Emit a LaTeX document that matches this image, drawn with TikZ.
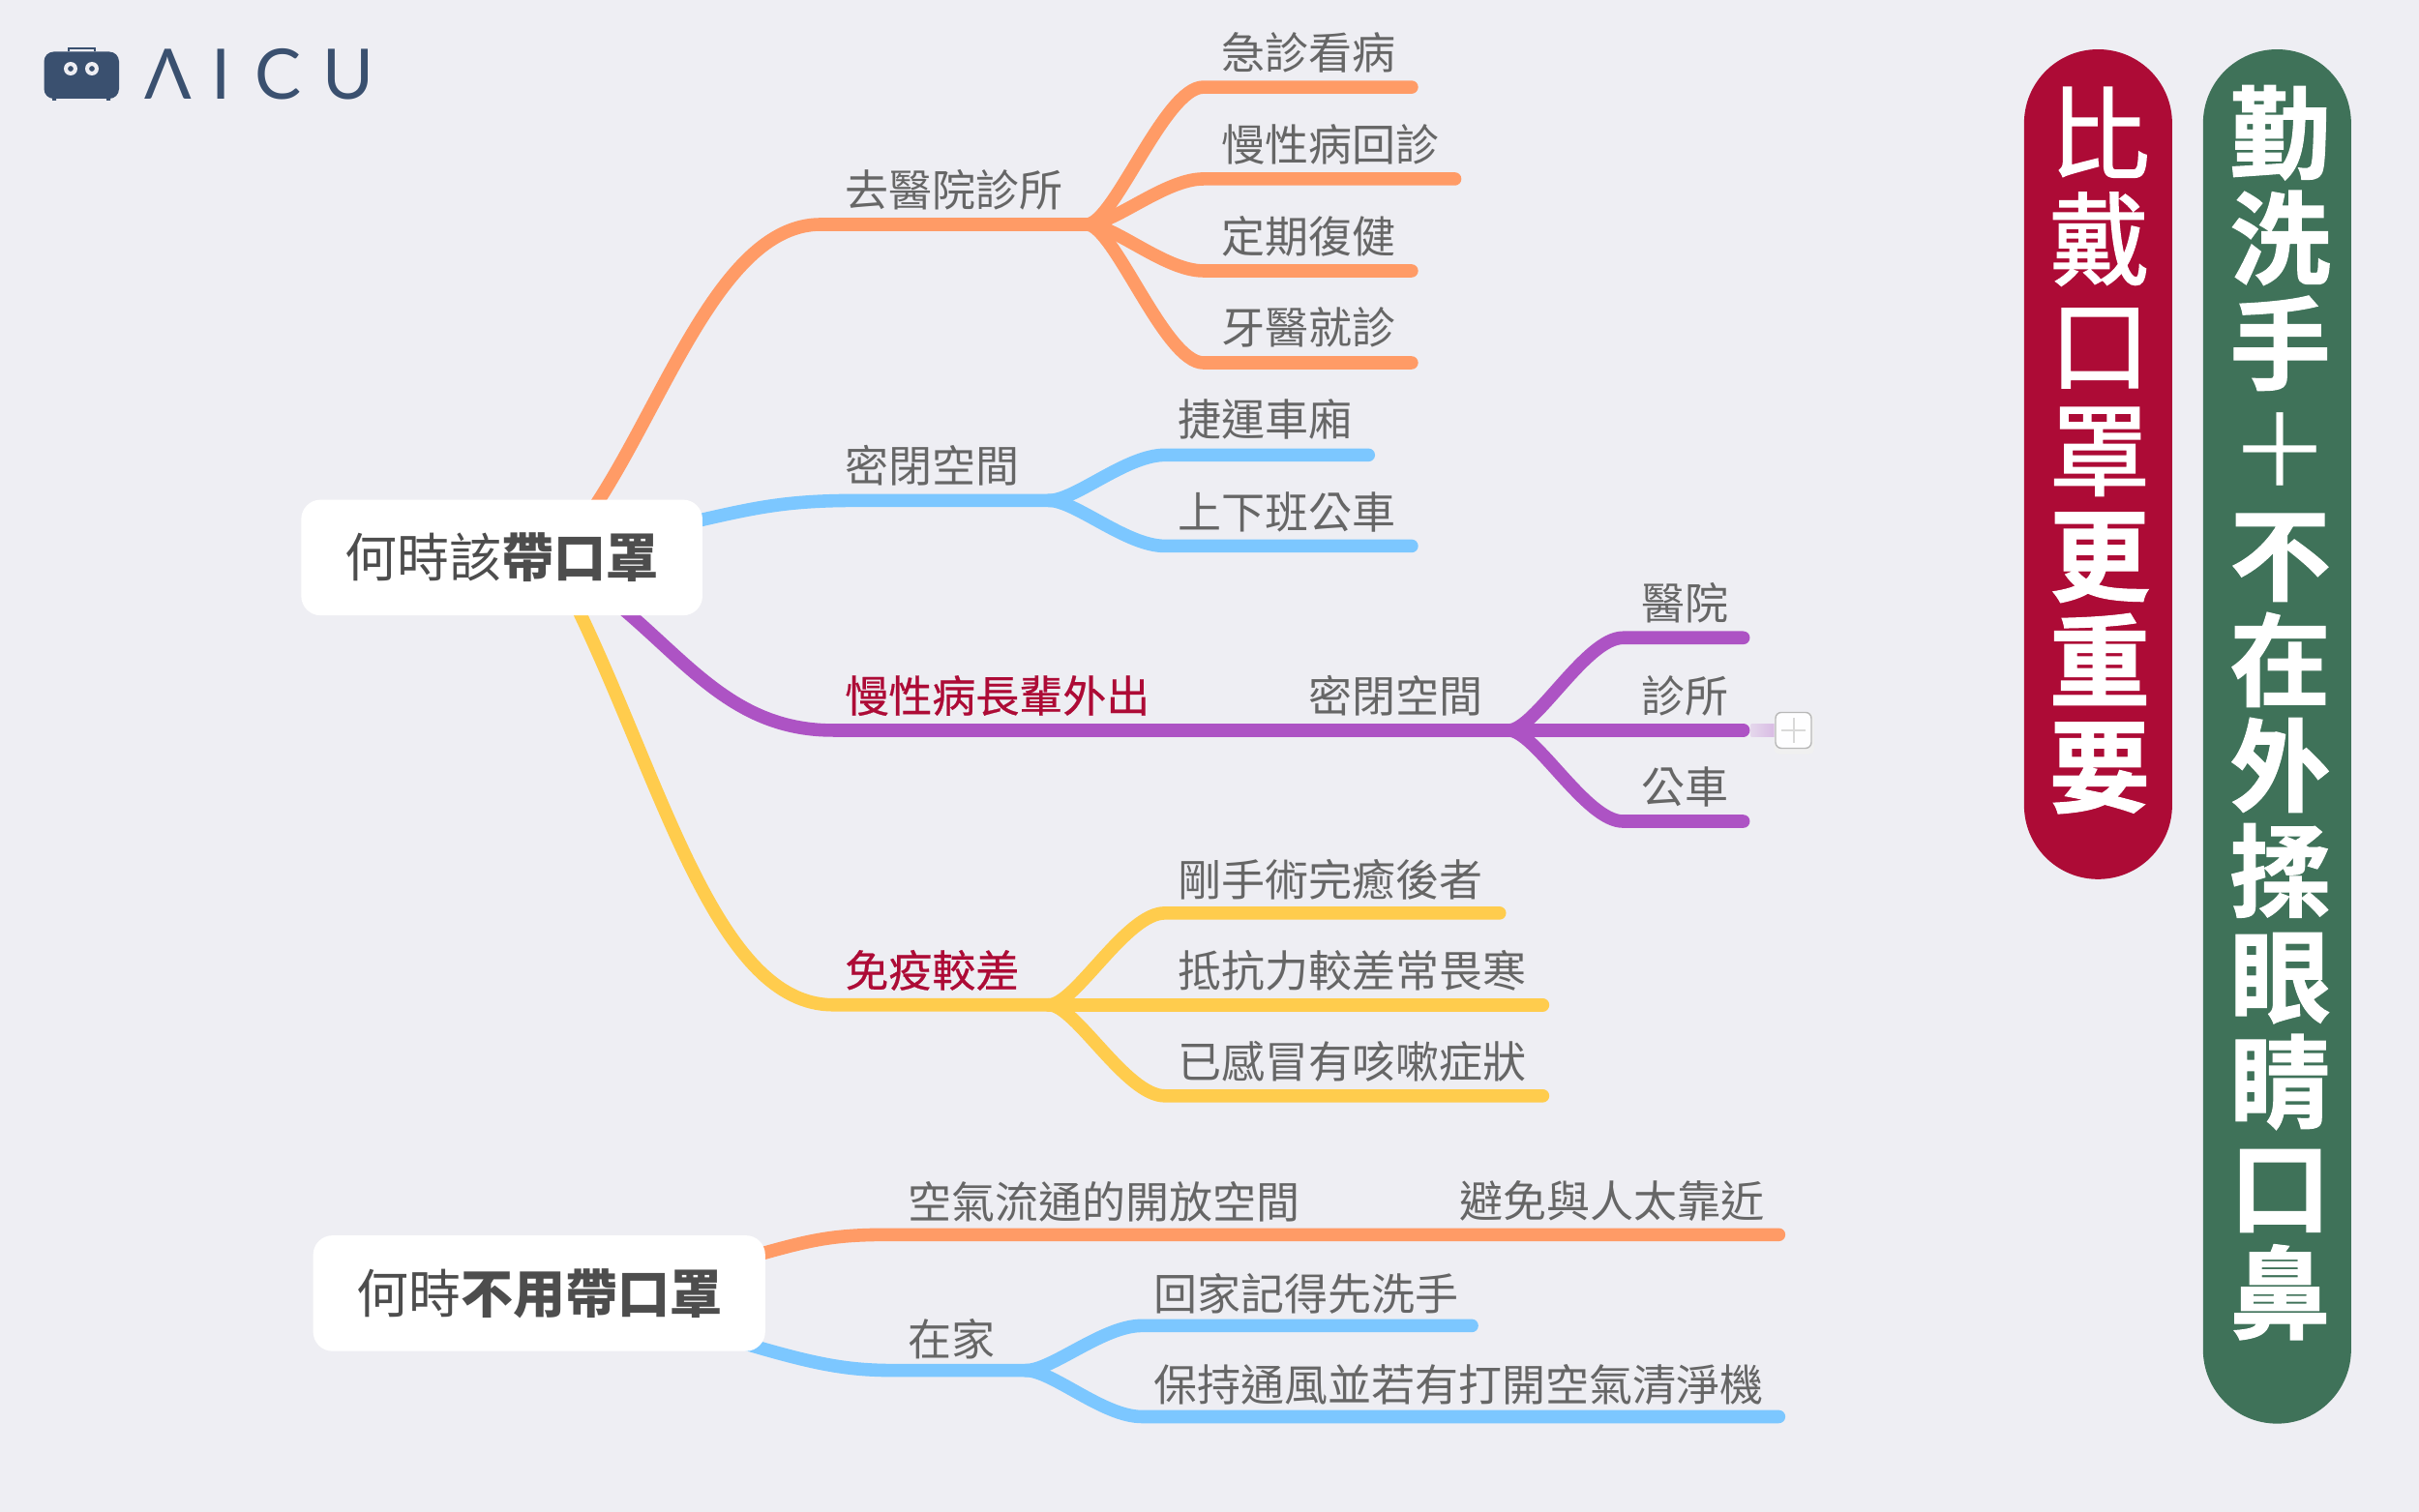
\documentclass[tikz,border=0pt]{standalone}
\usepackage{fontspec}
\setmainfont{Noto Sans CJK TC}
\newfontfamily\heavyfont[FakeBold=1.2]{Noto Sans CJK TC Bold}
\newfontfamily\medfont[FakeBold=0.5]{Noto Sans CJK TC}
\newfontfamily\midfont[FakeBold=1.5]{Noto Sans CJK TC}
\newfontfamily\logofont{Lato}
\usetikzlibrary{backgrounds,calc}
\definecolor{pagebg}{HTML}{EEEEF3}
\definecolor{corange}{HTML}{FF9B66}
\definecolor{cblue}{HTML}{7CC7FF}
\definecolor{cpurple}{HTML}{AD53C4}
\definecolor{cyellow}{HTML}{FFCC4D}
\definecolor{ccrimson}{HTML}{AD0B36}
\definecolor{cgreen}{HTML}{3F7259}
\definecolor{ctext}{HTML}{666666}
\definecolor{croot}{HTML}{4D4D4D}
\definecolor{clogo}{HTML}{3A506F}
\tikzset{
  branch/.style={line width=6.8pt,line cap=round,line join=round},
  lab/.style={anchor=west,inner sep=0pt,xshift=-0.4pt,text=ctext,font=\fontsize{22.5pt}{24pt}\selectfont},
  hot/.style={lab,text=ccrimson,font=\fontsize{22.5pt}{24pt}\selectfont\medfont},
  rootbox/.style={fill=white,rounded corners=10pt,text=croot,inner sep=0pt,minimum height=59.8pt,font=\fontsize{27pt}{29pt}\selectfont},
  pill/.style={rounded corners=38.2pt,minimum width=76.5pt,inner sep=0pt},
  pilltext/.style={inner sep=0pt,text=white,align=center,font=\fontsize{52pt}{54.5pt}\selectfont\heavyfont},
  logoletter/.style={inner sep=0pt,text=clogo,font=\fontsize{36pt}{38pt}\selectfont\logofont}
}
\begin{document}
\begin{tikzpicture}[x=0.797194pt,y=-0.797194pt]
\useasboundingbox (0,0) rectangle (1568,980.3);
% roots
\node[rootbox,minimum width=207.3pt] (r1) at (325.3,361.5) {何時該\textbf{帶口罩}};
\node[rootbox,minimum width=233.6pt] (r2) at (349.5,838.5) {何時\textbf{不用帶口罩}};
% labels
\node[lab] (a) at (548,123) {去醫院診所};
\node[lab] (a1) at (792,34) {急診看病};
\node[lab] (a2) at (792,94) {慢性病回診};
\node[lab] (a3) at (792,153) {定期復健};
\node[lab] (a4) at (792,212) {牙醫就診};
\node[lab] (b) at (548,302) {密閉空間};
\node[lab] (b1) at (764,272) {捷運車廂};
\node[lab] (b2) at (764,332) {上下班公車};
\node[hot] (c) at (548,451) {慢性病長輩外出};
\node[lab] (c0) at (848.5,451) {密閉空間};
\node[lab] (c1) at (1064,391) {醫院};
\node[lab] (c2) at (1064,451) {診所};
\node[lab] (c3) at (1064,510) {公車};
\node[hot] (d) at (548,629) {免疫較差};
\node[lab] (d1) at (764,570) {剛手術完癒後者};
\node[lab] (d2) at (764,629) {抵抗力較差常畏寒};
\node[lab] (d3) at (764,688) {已感冒有咳嗽症狀};
\node[lab] (e) at (589,779) {空氣流通的開放空間};
\node[lab] (e1) at (946.5,779) {避免與人太靠近};
\node[lab] (f) at (589,868) {在家};
\node[lab] (f1) at (748,839) {回家記得先洗手};
\node[lab] (f2) at (748,898) {保持通風並若有打開空氣清淨機};
% junctions
\coordinate (ja) at (704.5,145.5);
\coordinate (jb) at (680,324.5);
\coordinate (jc) at (978,473.5);
\coordinate (jd) at (680,651.5);
\coordinate (jf) at (665,888.5);
\begin{scope}[on background layer]
\fill[pagebg] (0,0) rectangle (1568,980.3);
\draw[branch,corange] ($(r1.north)+(60,5)$) .. controls (432,258) and (468,145.5) .. (532,145.5) -- (ja);
\draw[branch,corange] (ja) .. controls (722,145.5) and (755,56.5) .. (780,56.5) -- (915,56.5);
\draw[branch,corange] (ja) .. controls (722,145.5) and (755,116) .. (780,116) -- (943,116);
\draw[branch,corange] (ja) .. controls (722,145.5) and (755,175.6) .. (780,175.6) -- (915,175.6);
\draw[branch,corange] (ja) .. controls (722,145.5) and (755,235.2) .. (780,235.2) -- (915,235.2);
\draw[branch,cblue] ($(r1.east)+(-5,-23.5)$) .. controls (490,329) and (510,324.5) .. (555,324.5) -- (jb);
\draw[branch,cblue] (jb) .. controls (697,324.5) and (730,295) .. (755,295) -- (887,295);
\draw[branch,cblue] (jb) .. controls (697,324.5) and (730,354) .. (755,354) -- (915,354);
\draw[branch,cpurple] ($(r1.south)+(78,-5)$) .. controls (448,432) and (478,473.5) .. (540,473.5) -- (jc);
\draw[branch,cpurple] (jc) .. controls (995,473.5) and (1028,413.5) .. (1052,413.5) -- (1130,413.5);
\draw[branch,cpurple] (jc) -- (1130,473.5);
\draw[branch,cpurple] (jc) .. controls (995,473.5) and (1028,532.5) .. (1052,532.5) -- (1130,532.5);
\draw[branch,cyellow] ($(r1.south)+(49,-5)$) .. controls (430,510) and (465,651.5) .. (540,651.5) -- (jd);
\draw[branch,cyellow] (jd) .. controls (697,651.5) and (730,592) .. (755,592) -- (972,592);
\draw[branch,cyellow] (jd) -- (1000,651.5);
\draw[branch,cyellow] (jd) .. controls (697,651.5) and (730,710.5) .. (755,710.5) -- (1000,710.5);
\draw[branch,corange] ($(r2.east)+(-5,-25)$) .. controls (525,804) and (540,800.5) .. (575,800.5) -- (1153,800.5);
\draw[branch,cblue] ($(r2.east)+(-12,33)$) .. controls (530,885) and (550,888.5) .. (580,888.5) -- (jf);
\draw[branch,cblue] (jf) .. controls (682,888.5) and (715,859.5) .. (740,859.5) -- (954,859.5);
\draw[branch,cblue] (jf) .. controls (682,888.5) and (715,918.5) .. (740,918.5) -- (1153,918.5);
\end{scope}
% expand stub and button
\shade[left color=cpurple!15!pagebg,right color=cpurple!35!pagebg] (1135,469.5) rectangle (1152,477.5);
\fill[black!6,rounded corners=3pt] (1150,462) rectangle (1176,489);
\node[draw=black!28,fill=white!96!pagebg,rounded corners=3pt,line width=0.7pt,minimum width=18.5pt,minimum height=18.5pt,inner sep=0pt] (plus) at (1162.5,473.5) {};
\draw[black!15,line width=1pt] ($(plus)+(-8,0)$) -- ($(plus)+(8,0)$) ($(plus)+(0,-8)$) -- ($(plus)+(0,8)$);
% pills
\node[pill,fill=ccrimson,minimum height=428.9pt] (p1) at (1360,301) {};
\node[pill,fill=cgreen,minimum height=710.3pt] (p2) at (1476,477.5) {};
\node[pilltext] (t1) at (1361,292) {{\midfont 比}\\{\midfont 戴}\\{\midfont 口}\\{\midfont 罩}\\更\\重\\要};
\node[pilltext] (t2) at (1478,462) {勤\\洗\\手\\{\normalfont＋}\\不\\在\\外\\揉\\眼\\睛\\口\\鼻};
% logo
\begin{scope}[x=0.5pt,y=-0.5pt]
\fill[clogo,rounded corners=5pt] (45.5,53.5) rectangle (123,102);
\draw[clogo,line width=1pt] (71,53) -- (71,50.5) -- (97.5,50.5) -- (97.5,53);
\fill[clogo] (54,101) rectangle (58,104) (110,101) rectangle (114,104);
\fill[pagebg,even odd rule] (73,71) circle (7) (73,71) circle (3) (95,71) circle (7) (95,71) circle (3);
\node[logoletter] (la) at (174,77) {Λ};
\node[logoletter] (li) at (229,77) {I};
\node[logoletter] (lc) at (288,77) {C};
\node[logoletter] (lu) at (360,77) {U};
\end{scope}
\end{tikzpicture}
\end{document}
